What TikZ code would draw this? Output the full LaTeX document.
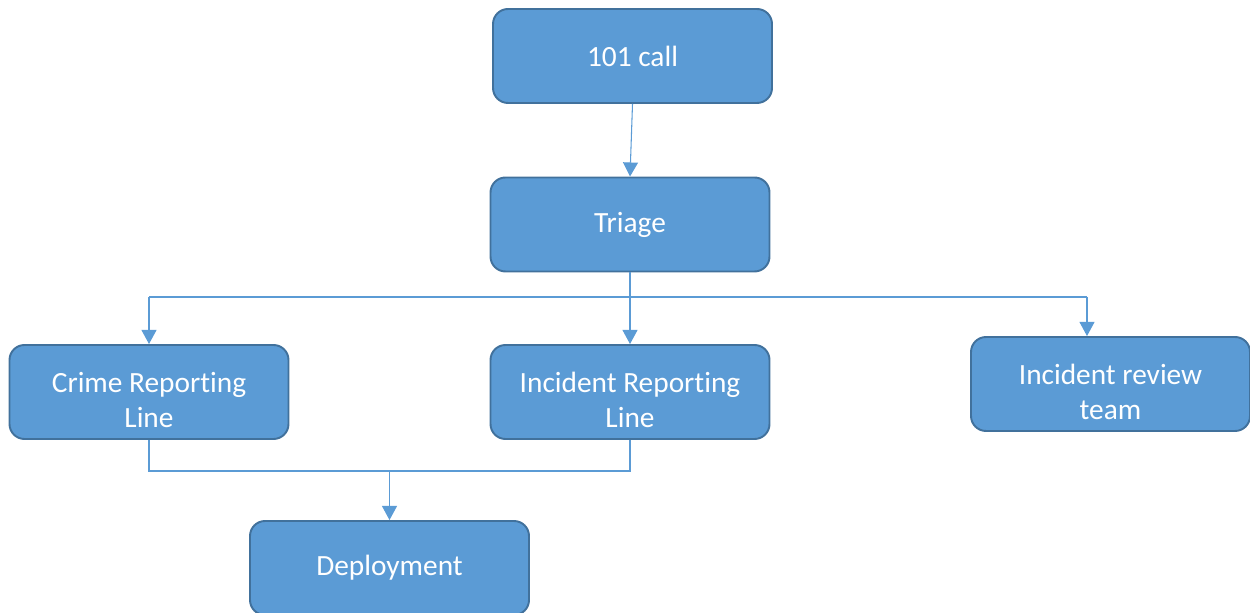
\documentclass[tikz,border=0pt]{standalone}
\usepackage{fontspec}
\setmainfont{Carlito}[Ligatures={NoCommon}]
\usetikzlibrary{arrows.meta}
\definecolor{boxfill}{HTML}{5B9BD5}
\definecolor{boxline}{HTML}{41719C}
\begin{document}
\begin{tikzpicture}[
    box/.style={rectangle, rounded corners=0.3cm, draw=boxline, line width=1.1pt, fill=boxfill,
        text=white, align=center, font=\fontsize{16.7}{19.8}\selectfont,
        minimum width=5.58cm, minimum height=1.88cm},
    link/.style={draw=boxfill, line width=0.6pt},
    linkarrow/.style={link, -{Triangle[width=8.5pt,length=8pt]}}
]
    \useasboundingbox (0,0) rectangle (25,12.24);

    % Caselle
    \node[box] (call) at (12.65,11.12) {101 call};
    \node[box] (triage) at (12.6,7.75) {Triage};
    \node[box] (crime) at (2.98,4.40) {\rule{0pt}{21pt}Crime Reporting\\Line};
    \node[box] (incident) at (12.6,4.40) {\rule{0pt}{21pt}Incident Reporting\\Line};
    \node[box] (review) at (22.21,4.56) {\rule{0pt}{21pt}Incident review\\team};
    \node[box] (deploy) at (7.79,0.88) {Deployment};

    % Frecce dal triage
    \draw[linkarrow] (call.south) -- (triage.north);
    \coordinate (bus) at (12.6,6.30);
    \coordinate (busright) at (21.74,6.30);
    \draw[link] (triage.south) -- (bus);
    \draw[link] (crime.north |- bus) -- (busright);
    \draw[linkarrow] (crime.north |- bus) -- (crime.north);
    \draw[linkarrow] (bus) -- (incident.north);
    \draw[linkarrow] (busright) -- (busright |- review.north);

    % Verso deployment
    \coordinate (join) at (7.79,2.82);
    \draw[link] (crime.south) -- (crime.south |- join) -- (incident.south |- join) -- (incident.south);
    \draw[linkarrow] (join) -- (deploy.north);
\end{tikzpicture}
\end{document}
